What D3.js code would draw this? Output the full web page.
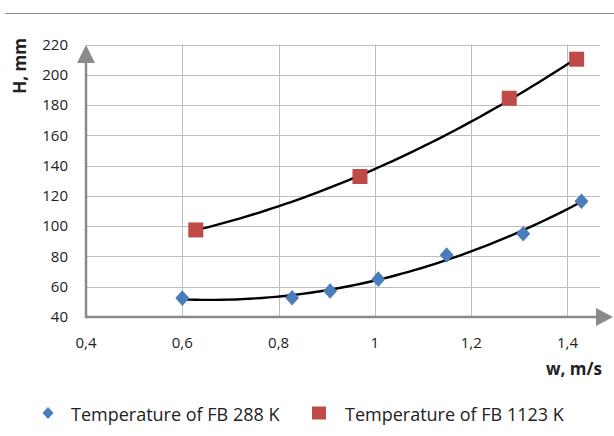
<!DOCTYPE html>
<html>
<head>
<meta charset="utf-8">
<script src="https://cdn.jsdelivr.net/npm/d3@7"></script>
<style>
  body { margin: 0; background: #fff; }
  text { font-family: "Open Sans", "Liberation Sans", sans-serif; fill: #222; }
</style>
</head>
<body>
<div id="chart"></div>
<script>
// series
var coldW = [0.6, 0.828, 0.907, 1.007, 1.149, 1.308, 1.429];
var coldH = [52.5, 52.7, 57.2, 65, 81, 95, 116.5];
var hotW = [0.628, 0.969, 1.279, 1.419];
var hotH = [97.5, 132.8, 184.5, 210.3];

var xTicks = [0.4, 0.6, 0.8, 1, 1.2, 1.4];
var yTicks = [40, 60, 80, 100, 120, 140, 160, 180, 200, 220];
var legendLabels = ["Temperature of FB 288 K", "Temperature of FB 1123 K"];

var width = 614, height = 436;
var plotLeft = 86, plotRight = 600, plotTop = 44.5, plotBottom = 317;

var svg = d3.select("#chart").append("svg")
    .attr("width", width)
    .attr("height", height);

// x: 0.2 step ~ 96.3px
var x = d3.scaleLinear().domain([0.4, 0.4 + (plotRight - plotLeft) / 481.5]).range([plotLeft, plotRight]);
var y = d3.scaleLinear().domain([40, 220]).range([plotBottom, plotTop]);

// frame line at top
svg.append("line")
    .attr("x1", 5).attr("x2", 614).attr("y1", 13.5).attr("y2", 13.5)
    .style("stroke", "#8c8c8c").style("stroke-width", 1.2);

// gridlines
svg.append("g").selectAll("line")
    .data(yTicks.slice(1))
    .enter().append("line")
    .attr("x1", plotLeft).attr("x2", plotRight)
    .attr("y1", function(d) { return Math.round(y(d)) + 0.5; })
    .attr("y2", function(d) { return Math.round(y(d)) + 0.5; })
    .style("stroke", "#bdbdbd").style("stroke-width", 1);

svg.append("g").selectAll("line")
    .data(xTicks.slice(1))
    .enter().append("line")
    .attr("x1", function(d) { return Math.round(x(d)) + 0.5; })
    .attr("x2", function(d) { return Math.round(x(d)) + 0.5; })
    .attr("y1", plotTop).attr("y2", plotBottom)
    .style("stroke", "#bdbdbd").style("stroke-width", 1);

// axes with arrows
var axisCol = "#8a8a8a";
svg.append("line")
    .attr("x1", plotLeft).attr("x2", 598).attr("y1", plotBottom).attr("y2", plotBottom)
    .style("stroke", axisCol).style("stroke-width", 2.5);
svg.append("path")
    .attr("d", "M596," + (plotBottom - 9) + "L613," + plotBottom + "L596," + (plotBottom + 9) + "Z")
    .style("fill", axisCol);
svg.append("line")
    .attr("x1", plotLeft).attr("x2", plotLeft).attr("y1", plotBottom + 1.2).attr("y2", 60)
    .style("stroke", axisCol).style("stroke-width", 2.5);
svg.append("path")
    .attr("d", "M" + (plotLeft - 9) + ",63L" + plotLeft + ",45L" + (plotLeft + 9) + ",63Z")
    .style("fill", axisCol);

// tick labels
var fmt = function(d) { return String(d).replace(".", ","); };
svg.append("g").selectAll("text")
    .data(yTicks)
    .enter().append("text")
    .attr("x", 68)
    .attr("y", function(d) { return y(d); })
    .attr("dy", "0.35em")
    .attr("text-anchor", "end")
    .style("font-size", "15px")
    .text(function(d) { return d; });

svg.append("g").selectAll("text")
    .data(xTicks)
    .enter().append("text")
    .attr("x", function(d) { return x(d); })
    .attr("y", 343)
    .attr("dy", "0.35em")
    .attr("text-anchor", "middle")
    .style("font-size", "15px")
    .text(fmt);

// axis titles
svg.append("text")
    .attr("transform", "translate(26,66) rotate(-90)")
    .attr("text-anchor", "middle")
    .style("font-size", "17px").style("font-weight", "bold")
    .text("H, mm");
svg.append("text")
    .attr("x", 602).attr("y", 369)
    .attr("dy", "0.35em")
    .attr("text-anchor", "end")
    .style("font-size", "17px").style("font-weight", "bold")
    .text("w, m/s");

// quadratic least squares trendline (like the spreadsheet's polynomial trend)
function polyFit(xs, ys) {
    var s = [0, 0, 0, 0, 0], t = [0, 0, 0];
    xs.forEach(function(xv, i) {
        for (var k = 0; k < 5; k++) s[k] += Math.pow(xv, k);
        for (var k = 0; k < 3; k++) t[k] += ys[i] * Math.pow(xv, k);
    });
    var m = [[s[0], s[1], s[2], t[0]], [s[1], s[2], s[3], t[1]], [s[2], s[3], s[4], t[2]]];
    for (var i = 0; i < 3; i++) {
        for (var j = i + 1; j < 3; j++) {
            var f = m[j][i] / m[i][i];
            for (var k = i; k < 4; k++) m[j][k] -= f * m[i][k];
        }
    }
    var c = [0, 0, 0];
    for (var i = 2; i >= 0; i--) {
        var v = m[i][3];
        for (var k = i + 1; k < 3; k++) v -= m[i][k] * c[k];
        c[i] = v / m[i][i];
    }
    return function(xv) { return c[0] + c[1] * xv + c[2] * xv * xv; };
}

var line = d3.line()
    .x(function(d) { return x(d[0]); })
    .y(function(d) { return y(d[1]); });

[[coldW, coldH], [hotW, hotH]].forEach(function(s) {
    var f = polyFit(s[0], s[1]);
    var lo = d3.min(s[0]), hi = d3.max(s[0]);
    var pts = d3.range(0, 61).map(function(i) {
        var xv = lo + (hi - lo) * i / 60;
        return [xv, f(xv)];
    });
    svg.append("path")
        .attr("d", line(pts))
        .style("fill", "none")
        .style("stroke", "#000")
        .style("stroke-width", 2.4);
});

// markers
function diamondPath(hw, hh) {
    return "M0," + (-hh) + "L" + hw + ",0L0," + hh + "L" + (-hw) + ",0Z";
}
svg.append("g").selectAll("path")
    .data(coldW.map(function(d, i) { return [d, coldH[i]]; }))
    .enter().append("path")
    .attr("d", diamondPath(7, 7.8))
    .attr("transform", function(d) { return "translate(" + x(d[0]) + "," + y(d[1]) + ")"; })
    .style("fill", "#4a7ebb");

svg.append("g").selectAll("rect")
    .data(hotW.map(function(d, i) { return [d, hotH[i]]; }))
    .enter().append("rect")
    .attr("x", function(d) { return x(d[0]) - 7.5; })
    .attr("y", function(d) { return y(d[1]) - 7.5; })
    .attr("width", 15).attr("height", 15)
    .style("fill", "#be4b48");

// legend
var lg = svg.append("g");
lg.append("path")
    .attr("d", diamondPath(5.5, 6))
    .attr("transform", "translate(48,413)")
    .style("fill", "#4a7ebb");
lg.append("text")
    .attr("x", 71).attr("y", 415).attr("dy", "0.35em")
    .style("font-size", "18px")
    .text(legendLabels[0]);
lg.append("rect")
    .attr("x", 312).attr("y", 406.5).attr("width", 14).attr("height", 13)
    .style("fill", "#be4b48");
lg.append("text")
    .attr("x", 345).attr("y", 415).attr("dy", "0.35em")
    .style("font-size", "18px")
    .text(legendLabels[1]);
</script>
</body>
</html>
